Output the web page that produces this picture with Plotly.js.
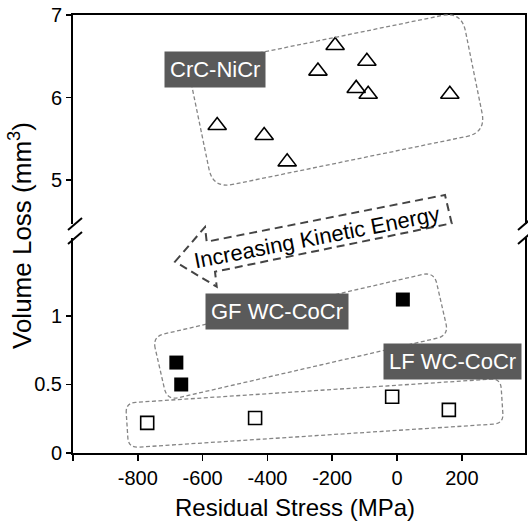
<!DOCTYPE html>
<html>
<head>
<meta charset="utf-8">
<script src="https://cdn.plot.ly/plotly-3.0.1.min.js"></script>
<style>html,body{margin:0;padding:0;background:#fff;}#chart{width:528px;height:522px;}</style>
</head>
<body>
<div id="chart"></div>
<script>
// ---- data ----
var crcStress = [-555, -410, -339, -244, -191, -93, -126, -89, 163];
var crcLoss   = [5.66, 5.54, 5.22, 6.32, 6.63, 6.44, 6.11, 6.04, 6.04];
var gfStress  = [-681, -666, 18];
var gfLoss    = [0.66, 0.50, 1.12];
var lfStress  = [-771, -438, -15, 160];
var lfLoss    = [0.22, 0.255, 0.41, 0.315];
var xTickVals = [-800, -600, -400, -200, 0, 200];
var xTickText = ['-800', '-600', '-400', '-200', '0', '200'];
var yLowTicks = [0, 0.5, 1];
var yLowText  = ['0', '0.5', '1'];
var yHighTicks = [5, 6, 7];
var yHighText  = ['5', '6', '7'];

// ---- geometry helpers (pixel -> paper) for decorations ----
var L = 73, R = 525, T = 15, B = 453;
function pxX(x){ return (x - L) / (R - L); }
function pxY(y){ return (B - y) / (B - T); }
function pt(p){ return pxX(p[0]).toFixed(5) + ',' + pxY(p[1]).toFixed(5); }
function roundRect(c, r){
  var n = c.length, s = '';
  function toward(a, b, d){ var dx=b[0]-a[0], dy=b[1]-a[1], l=Math.sqrt(dx*dx+dy*dy); return [a[0]+dx/l*d, a[1]+dy/l*d]; }
  for (var i = 0; i < n; i++) {
    var p = c[i], prev = c[(i+n-1)%n], next = c[(i+1)%n];
    var a = toward(p, prev, r), b = toward(p, next, r);
    s += (i === 0 ? 'M' : 'L') + pt(a) + ' Q' + pt(p) + ' ' + pt(b) + ' ';
  }
  return s + 'Z';
}
function poly(c){ return 'M' + c.map(pt).join(' L') + ' Z'; }

var font = 'Liberation Sans, Arial, sans-serif';
var boxLine = {color: '#858585', width: 1.3, dash: '4px,2.5px'};

var shapes = [
  {type:'path', xref:'paper', yref:'paper', line: boxLine,
   path: roundRect([[188,67.5],[461.5,11.5],[486,132.5],[213,188.5]], 20)},
  {type:'path', xref:'paper', yref:'paper', line: boxLine,
   path: roundRect([[152.5,336.6],[434.1,271.8],[448.7,335.5],[167.1,400.3]], 12)},
  {type:'path', xref:'paper', yref:'paper', line: boxLine,
   path: roundRect([[125.6,403],[500.6,378.5],[503.5,423.5],[128.5,447.8]], 10)},
  {type:'path', xref:'paper', yref:'paper', line: {color:'#444', width:2, dash:'8px,5px'},
   path: poly([[175,261.7],[205,227],[206.7,241.7],[445,195],[451.7,223.3],[215,271.7],[216.7,286.7]])}
];
// axis break marks
[[68,230,82,218],[68,244,82,232],[518,230,532,218],[518,244,532,232]].forEach(function(s){
  shapes.push({type:'line', xref:'paper', yref:'paper', x0:pxX(s[0]), y0:pxY(s[1]), x1:pxX(s[2]), y1:pxY(s[3]),
    line:{color:'#000', width:2}});
});

function label(text, cx, cy){
  return {text:text, xref:'paper', yref:'paper', x:pxX(cx), y:pxY(cy), xanchor:'center', yanchor:'middle',
    showarrow:false, bgcolor:'#5a5a5a', borderpad:5, font:{family:font, size:22, color:'#fff'}};
}

var annotations = [
  label('CrC-NiCr', 215, 69),
  label('GF WC-CoCr', 277, 311.5),
  label('LF WC-CoCr', 452.5, 361.5),
  {text:'Increasing Kinetic Energy', xref:'paper', yref:'paper', x:pxX(316), y:pxY(237),
   xanchor:'center', yanchor:'middle', showarrow:false, textangle:-11, font:{family:font, size:22, color:'#000'}},
  {text:'Residual Stress (MPa)', xref:'paper', yref:'paper', x:pxX(295), y:pxY(507),
   xanchor:'center', yanchor:'middle', showarrow:false, font:{family:font, size:24, color:'#000'}},
  {text:'Volume Loss (mm<sup>3</sup>)', xref:'paper', yref:'paper', x:pxX(21), y:pxY(236),
   xanchor:'center', yanchor:'middle', showarrow:false, textangle:-90, font:{family:font, size:26, color:'#000'}}
];

var traces = [
  {x: crcStress, y: crcLoss, xaxis:'x2', yaxis:'y2', type:'scatter', mode:'markers', cliponaxis:false,
   marker:{symbol:'triangle-up-open', size:16, color:'#000', line:{width:1.6, color:'#000'}}},
  {x: gfStress, y: gfLoss, xaxis:'x', yaxis:'y', type:'scatter', mode:'markers', cliponaxis:false,
   marker:{symbol:'square', size:14, color:'#000'}},
  {x: lfStress, y: lfLoss, xaxis:'x', yaxis:'y', type:'scatter', mode:'markers', cliponaxis:false,
   marker:{symbol:'square-open', size:13, color:'#000', line:{width:1.6, color:'#000'}}}
];

var layout = {
  width:528, height:522, showlegend:false,
  paper_bgcolor:'#fff', plot_bgcolor:'#fff',
  margin:{l:L, r:528-R, t:T, b:522-B},
  font:{family:font, size:20, color:'#000'},
  xaxis:{domain:[0,1], range:[-1000,395], anchor:'y', showline:true, linewidth:2, linecolor:'#000',
    ticks:'outside', ticklen:6, tickwidth:1.5, tickcolor:'#000', tickvals:xTickVals, ticktext:xTickText,
    minor:{tick0:-1000, dtick:1400, ticks:'outside', ticklen:6, tickwidth:1.5, tickcolor:'#000', showgrid:false},
    showgrid:false, zeroline:false, tickfont:{size:20}},
  xaxis2:{matches:'x', anchor:'y2', side:'top', showline:true, linewidth:2, linecolor:'#000',
    ticks:'', showticklabels:false, showgrid:false, zeroline:false},
  yaxis:{domain:[0, (B-238)/(B-T)], range:[0,1.569], anchor:'x', showline:true, mirror:true, linewidth:2,
    linecolor:'#000', ticks:'outside', ticklen:5, tickwidth:1.5, tickcolor:'#000',
    tickvals:yLowTicks, ticktext:yLowText, showgrid:false, zeroline:false, tickfont:{size:20}},
  yaxis2:{domain:[(B-224)/(B-T), 1], range:[4.467,7], anchor:'x2', showline:true, mirror:true, linewidth:2,
    linecolor:'#000', ticks:'outside', ticklen:5, tickwidth:1.5, tickcolor:'#000',
    tickvals:yHighTicks, ticktext:yHighText, showgrid:false, zeroline:false, tickfont:{size:20}},
  shapes: shapes,
  annotations: annotations
};

Plotly.newPlot('chart', traces, layout, {staticPlot:true, displayModeBar:false});
</script>
</body>
</html>
